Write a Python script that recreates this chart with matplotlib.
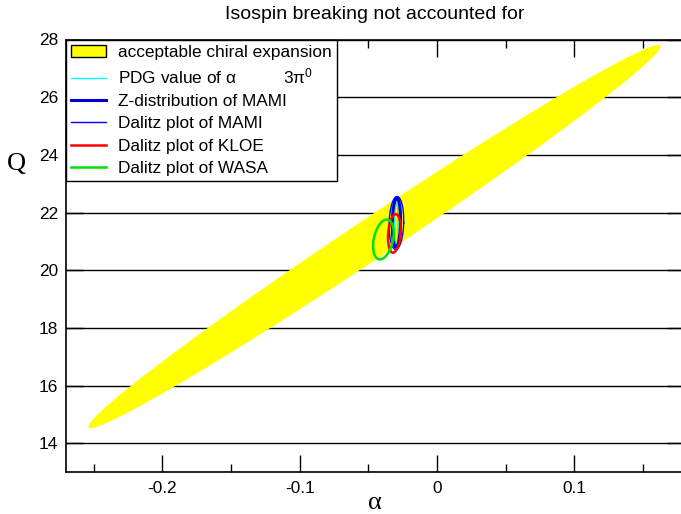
import matplotlib
matplotlib.use('Agg')
import matplotlib.pyplot as plt
from matplotlib.patches import Patch
import numpy as np

plt.rcParams['font.family'] = ['Liberation Sans', 'DejaVu Sans']
plt.rcParams['mathtext.fontset'] = 'custom'
plt.rcParams['mathtext.rm'] = 'Liberation Sans'
plt.rcParams['mathtext.it'] = 'Liberation Sans'

# big ellipse: centre, long conjugate half-axis, short (horizontal) half-width
band_center = (-0.0455, 21.17)
band_long = (0.2068, 6.64)
band_width = 0.0259

# small ellipses: centre alpha, centre Q, horizontal half-width, tilt, vertical half-height
labels = ['PDG value of α          3π$^{0}$', 'Z-distribution of MAMI', 'Dalitz plot of MAMI',
          'Dalitz plot of KLOE', 'Dalitz plot of WASA']
ell_alpha = [-0.0295, -0.0295, -0.0295, -0.0310, -0.0390]
ell_q = [21.60, 21.65, 21.64, 21.28, 21.07]
ell_w = [0.0012, 0.0030, 0.0053, 0.0045, 0.0071]
ell_k = [0.0000, 0.0003, 0.0005, 0.0010, 0.0025]
ell_h = [0.75, 0.85, 0.92, 0.67, 0.69]
colors = ['#00ffff', '#0000d0', '#0000ff', '#ff0000', '#00e000']
widths = [1.0, 2.2, 1.0, 1.8, 1.8]

yticks = [14, 16, 18, 20, 22, 24, 26, 28]
xticks = [-0.2, -0.1, 0, 0.1]

fig = plt.figure(figsize=(6.81, 5.14), dpi=100)
ax = fig.add_axes([66.3 / 681, 41.7 / 514, (684 - 66.3) / 681, (472.3 - 39.5) / 514])

t = np.linspace(0, 2 * np.pi, 400)
bx = band_center[0] + band_long[0] * np.cos(t) + band_width * np.sin(t)
by = band_center[1] + band_long[1] * np.cos(t)
ax.fill(bx, by, color='#ffff00', lw=0, zorder=2)

handles = []
for i in range(len(labels)):
    ex = ell_alpha[i] + ell_w[i] * np.cos(t) + ell_k[i] * np.sin(t)
    ey = ell_q[i] + ell_h[i] * np.sin(t)
    ln, = ax.plot(ex, ey, color=colors[i], lw=widths[i], zorder=3 + i * 0.1)
    handles.append(ln)

band_handle = Patch(facecolor='#ffff00', edgecolor='black', lw=1)
leg = ax.legend([band_handle] + handles, ['acceptable chiral expansion'] + labels,
                loc='upper left', bbox_to_anchor=(0, 1), borderaxespad=0,
                fancybox=False, framealpha=1, edgecolor='black', fontsize=12.4,
                handlelength=2.0, handletextpad=0.7, labelspacing=0.42,
                borderpad=0.3)
leg.get_frame().set_linewidth(1.0)
leg.set_zorder(10)

ax.set_xlim(-0.27, 0.18)
ax.set_ylim(13, 28)
ax.set_yticks(yticks)
ax.set_xticks(xticks)
ax.set_xticklabels(['-0.2', '-0.1', '0', '0.1'])
ax.set_xticks([-0.25, -0.15, -0.05, 0.05, 0.15], minor=True)
ax.tick_params(which='both', direction='in', top=True, right=True, labelsize=12.4,
               width=1, color='black', pad=6)
ax.tick_params(which='major', length=12)
ax.tick_params(which='minor', length=6)
ax.grid(axis='y', color='black', lw=1)
ax.set_axisbelow(True)
for s in ax.spines.values():
    s.set_linewidth(1.2)

ax.set_title('Isospin breaking not accounted for', fontsize=14, pad=15)
ax.set_xlabel('α', family='Liberation Serif', fontsize=19, labelpad=0)
ax.set_ylabel('Q', family='Liberation Serif', fontsize=19, rotation=0, va='center')
ax.yaxis.set_label_coords(-0.08, 0.712)
ax.xaxis.set_label_coords(0.5, -0.07)
ax.xaxis.label.set_va('center')

fig.savefig('out.png', dpi=100)
